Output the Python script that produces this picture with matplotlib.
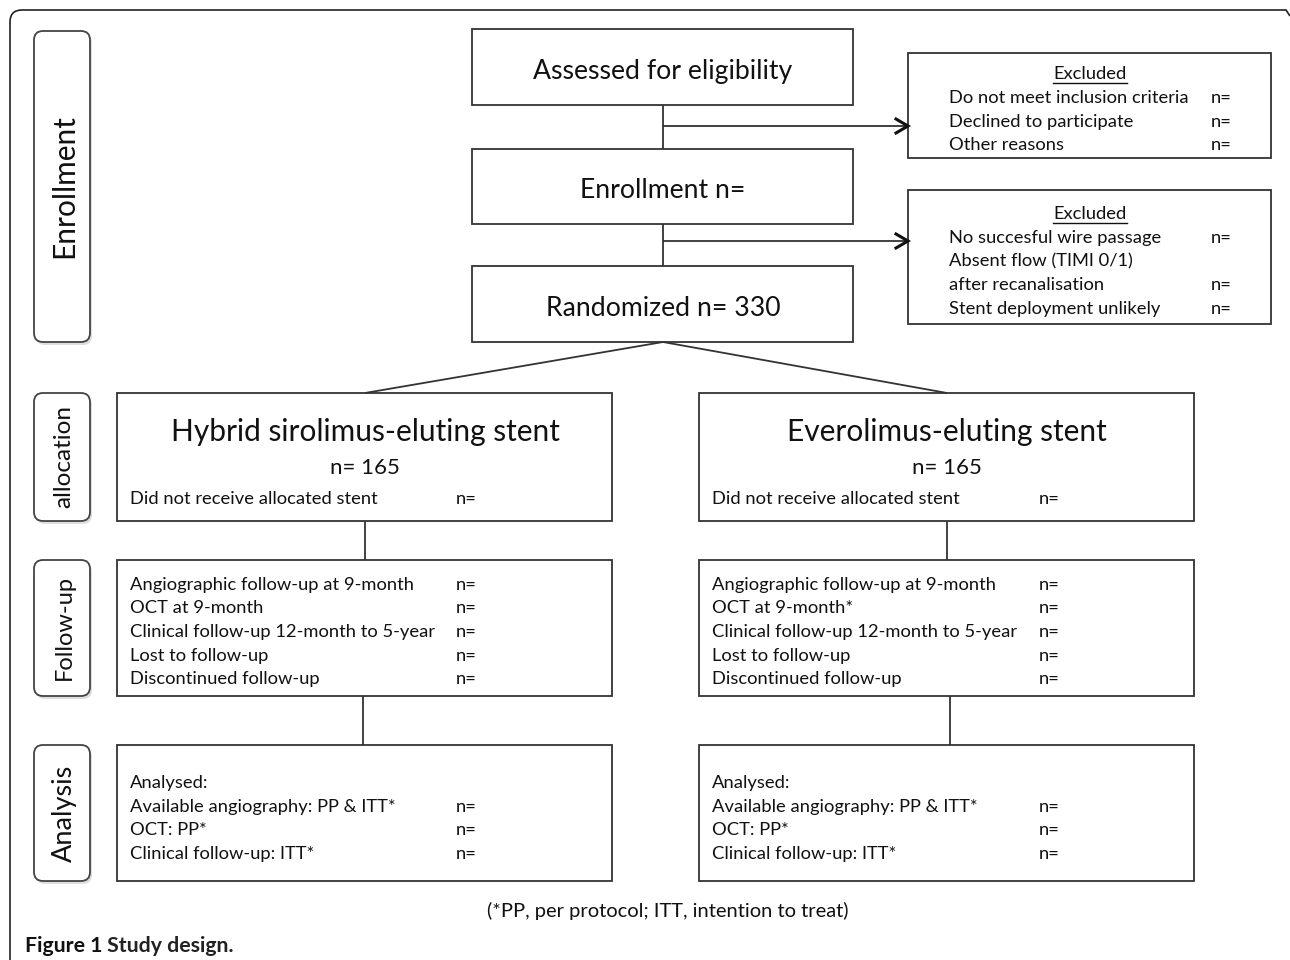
import matplotlib
matplotlib.use("Agg")
import matplotlib.pyplot as plt
from matplotlib.patches import Rectangle, FancyBboxPatch
from matplotlib.path import Path
from matplotlib.patches import PathPatch

FONT = ["Lato", "DejaVu Sans"]
plt.rcParams['font.family'] = FONT

# ---- texts ----
top_steps = ["Assessed for eligibility", "Enrollment n=", "Randomized n= 330"]
excl1_items = ["Do not meet inclusion criteria", "Declined to participate", "Other reasons"]
excl1_n = ["n=", "n=", "n="]
excl2_items = ["No succesful wire passage", "Absent flow (TIMI 0/1)", "after recanalisation", "Stent deployment unlikely"]
excl2_n = ["n=", "", "n=", "n="]
stage_labels = ["Enrollment", "allocation", "Follow-up", "Analysis"]
stage_sizes = [21.5, 17.5, 17.0, 19.5]
arm_titles = ["Hybrid sirolimus-eluting stent", "Everolimus-eluting stent"]
arm_n = ["n= 165", "n= 165"]
alloc_items = ["Did not receive allocated stent"]
follow_left = ["Angiographic follow-up at 9-month", "OCT at 9-month", "Clinical follow-up 12-month to 5-year",
               "Lost to follow-up", "Discontinued follow-up"]
follow_right = ["Angiographic follow-up at 9-month", "OCT at 9-month*", "Clinical follow-up 12-month to 5-year",
                "Lost to follow-up", "Discontinued follow-up"]
analysis_items = ["Analysed:", "Available angiography: PP & ITT*", "OCT: PP*", "Clinical follow-up: ITT*"]
analysis_n = ["", "n=", "n=", "n="]
footnote = "(*PP, per protocol; ITT, intention to treat)"
caption_bold = "Figure 1"
caption_rest = " Study design."

W, H = 1290, 960
fig = plt.figure(figsize=(W / 100, H / 100), dpi=100)
ax = fig.add_axes([0, 0, 1, 1])
ax.set_xlim(0, W)
ax.set_ylim(H, 0)
ax.axis("off")

LC = "#333333"
LW = 1.3
TC = "#111111"
SMALL = 13.2
BIG = 19.2

def box(x0, y0, x1, y1):
    ax.add_patch(Rectangle((x0, y0), x1 - x0, y1 - y0, fill=False, ec=LC, lw=LW))

def line(x0, y0, x1, y1):
    ax.plot([x0, x1], [y0, y1], color=LC, lw=LW, solid_capstyle="butt")

def arrow(x0, y, x1):
    line(x0, y, x1 - 1, y)
    ax.plot([x1 - 12, x1, x1 - 12], [y - 7, y, y + 7], color="#111111", lw=2.2, solid_joinstyle="miter")

def stext(x, y, s, **kw):
    kw.setdefault("fontsize", SMALL)
    kw.setdefault("ha", "left")
    return ax.text(x, y + 2, s, va="center", color=TC, **kw)

# outer frame with rounded top-left corner
r = 12
verts = [(10, 965), (10, 10 + r), (10, 10), (10 + r, 10), (1286, 10), (1290, 16)]
codes = [Path.MOVETO, Path.LINETO, Path.CURVE3, Path.CURVE3, Path.LINETO, Path.LINETO]
ax.add_patch(PathPatch(Path(verts, codes), fill=False, ec="#222222", lw=1.2))

# top column
cx = 663
top_boxes = [(29, 105), (149, 224), (266, 342)]
for (y0, y1), t in zip(top_boxes, top_steps):
    box(472, y0, 853, y1)
    ax.text(cx, (y0 + y1) / 2 + 4, t, ha="center", va="center", fontsize=BIG, color=TC)
line(cx, 105, cx, 149)
line(cx, 224, cx, 266)
arrow(cx, 126, 908)
arrow(cx, 241, 908)

fig.canvas.draw()
inv = ax.transData.inverted()

def excl_box(y0, y1, head_y, ys, items, ns):
    box(908, y0, 1271, y1)
    t = stext(1090, head_y, "Excluded", ha="center")
    bb = t.get_window_extent(renderer=fig.canvas.get_renderer())
    (xa, _), (xb, _) = inv.transform([(bb.x0, 0), (bb.x1, 0)])
    ax.plot([xa, xb], [head_y + 11, head_y + 11], color=TC, lw=1.0)
    for y, it, n in zip(ys, items, ns):
        stext(949, y, it)
        if n:
            stext(1211, y, n)

excl_box(53, 158, 72, [96, 120, 143], excl1_items, excl1_n)
excl_box(190, 324, 212, [236, 259, 283, 307], excl2_items, excl2_n)

# stage labels (rounded, with shadow)
stage_boxes = [(31, 342), (393, 521), (560, 696), (745, 881)]
for (y0, y1), lab, fs in zip(stage_boxes, stage_labels, stage_sizes):
    sh = FancyBboxPatch((36, y0 + 3), 56, y1 - y0, boxstyle="round,pad=0,rounding_size=9",
                        fc="#c8c8c8", ec="none", alpha=0.6)
    ax.add_patch(sh)
    p = FancyBboxPatch((34, y0), 56, y1 - y0, boxstyle="round,pad=0,rounding_size=9",
                       fc="white", ec="#444444", lw=1.3)
    ax.add_patch(p)
    ax.text(64, (y0 + y1) / 2, lab, rotation=90, ha="center", va="center",
            fontsize=fs, color=TC)

# split lines
line(cx, 342, 365, 393)
line(cx, 342, 947, 393)

arms = [(117, 612, 365, 130, 456), (699, 1194, 947, 712, 1039)]
for i, (x0, x1, mx, tx, nx) in enumerate(arms):
    # allocation
    box(x0, 393, x1, 521)
    ax.text(mx, 432, arm_titles[i], ha="center", va="center", fontsize=21.5, color=TC)
    ax.text(mx, 468, arm_n[i], ha="center", va="center", fontsize=16, color=TC)
    stext(tx, 497, alloc_items[0])
    stext(nx, 497, "n=")
    line(mx, 521, mx, 560)
    # follow-up
    box(x0, 560, x1, 696)
    items = follow_left if i == 0 else follow_right
    for y, it in zip([583, 606, 630, 654, 677], items):
        stext(tx, y, it)
        stext(nx, y, "n=")
    vx = mx - 2 if i == 0 else mx + 3
    line(vx, 696, vx, 745)
    # analysis
    box(x0, 745, x1, 881)
    for y, it, n in zip([781, 805, 828, 852], analysis_items, analysis_n):
        stext(tx, y, it)
        if n:
            stext(nx, y, n)

stext(cx + 5, 909, footnote, ha="center", fontsize=14.5)
t1 = ax.text(25, 946, caption_bold, ha="left", va="center", fontsize=15.3, fontweight="bold", color=TC)
fig.canvas.draw()
bb = t1.get_window_extent(renderer=fig.canvas.get_renderer())
ax.text(25 + bb.width, 946, caption_rest, ha="left", va="center", fontsize=15.3,
        fontweight="bold", color="#222222")

fig.savefig("out.png", dpi=100)
